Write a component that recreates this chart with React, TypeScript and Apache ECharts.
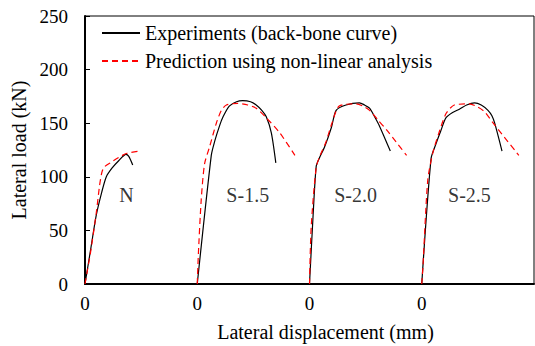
import React, { useEffect, useRef } from "react";
import * as echarts from "echarts";

const OFFSETS = [0, 20, 40, 60];
const SPECIMENS = ["N", "S-1.5", "S-2.0", "S-2.5"];
const LABEL_POS: [number, number][] = [[7.4, 83], [9.0, 83], [8.2, 83], [8.5, 83]];

const EXP_N: [number, number][] = [[0,0],[1,32],[2,64],[3,86],[3.8,100],[4.8,108],[6,115],[7.3,121],[7.8,119],[8.5,111]];
const PRED_N: [number, number][] = [[0,0],[1,30],[2,66],[2.6,92],[3,104],[3.4,109],[4.5,113],[6,118],[7.5,122],[9.8,124]];
const EXP_S15: [number, number][] = [[0,0],[2.5,120],[3.1,133],[4,148],[4.6,156],[5.7,166],[7,170],[8.1,171],[9.5,170],[10.5,167],[11.5,162],[12.3,156],[13.2,141],[14,113]];
const PRED_S15: [number, number][] = [[0,0],[0.2,28],[0.7,78],[1.3,112],[2.2,128],[3.4,150],[4.3,162],[5.2,167],[7.2,168.5],[9,167],[10.5,164],[12.3,155],[14.7,141],[17.4,120]];
const EXP_S20: [number, number][] = [[0,0],[0.6,60],[1.2,110],[1.8,118],[2.7,128],[3.9,146],[4.75,162],[6.5,167],[8.9,169],[9.8,167],[10.7,164],[11.6,156],[12.5,147],[14.4,124]];
const PRED_S20: [number, number][] = [[0,0],[0.3,53],[1.2,109],[1.9,120],[2.9,132],[4,150],[5.3,166],[8.3,168],[9.5,166],[10.7,162],[12.2,153],[13.7,144],[15.5,132],[17.3,120]];
const EXP_S25: [number, number][] = [[0,0],[1.66,117],[2.55,131],[3.4,143],[4.3,155],[5.5,160],[6.7,163],[8,167],[9.4,169],[10.6,167],[11.8,162],[12.5,157],[13,150],[14.3,124]];
const PRED_S25: [number, number][] = [[0,0],[0.2,15],[1.07,97],[1.96,122],[3,140],[4.33,159],[5.8,167],[8.5,168],[10,165],[11.2,160.7],[12.6,151],[14.4,139],[17.3,120]];

const EXPERIMENTS = [EXP_N, EXP_S15, EXP_S20, EXP_S25];
const PREDICTIONS = [PRED_N, PRED_S15, PRED_S20, PRED_S25];

const EXP_NAME = "Experiments (back-bone curve)";
const PRED_NAME = "Prediction using non-linear analysis";
const X_TICKS = [0, 20, 40, 60];

const FONT = "'Liberation Serif', 'Times New Roman', serif";

export default function App() {
  const ref = useRef<HTMLDivElement>(null);
  useEffect(() => {
    if (!ref.current) return;
    const chart = echarts.init(ref.current, undefined, { renderer: "svg" });
    const shift = (pts: [number, number][], off: number) => pts.map(([x, y]) => [x + off, y]);
    const series: any[] = [];
    EXPERIMENTS.forEach((pts, i) => {
      series.push({
        name: EXP_NAME,
        type: "line",
        data: shift(pts, OFFSETS[i]),
        symbol: "none",
        smooth: 0.25,
        lineStyle: { color: "#000", width: 1.2 },
        itemStyle: { color: "#000" },
        z: 3,
      });
    });
    PREDICTIONS.forEach((pts, i) => {
      series.push({
        name: PRED_NAME,
        type: "line",
        data: shift(pts, OFFSETS[i]),
        symbol: "none",
        smooth: 0.25,
        lineStyle: { color: "#ff0000", width: 1.2, type: [6, 4] },
        itemStyle: { color: "#ff0000" },
        z: 4,
      });
    });
    series.push({
      name: "labels",
      type: "scatter",
      symbolSize: 1,
      itemStyle: { color: "transparent" },
      silent: true,
      data: SPECIMENS.map((s, i) => ({ name: s, value: [LABEL_POS[i][0] + OFFSETS[i], LABEL_POS[i][1]] })),
      label: {
        show: true,
        position: "inside",
        formatter: (p: any) => p.name,
        fontFamily: FONT,
        fontSize: 20,
        color: "#000",
      },
    });
    chart.setOption({
      animation: false,
      backgroundColor: "#fff",
      textStyle: { fontFamily: FONT, color: "#000" },
      grid: {
        left: 85, right: 1, top: 16, bottom: 62,
        outerBoundsMode: "none",
        containLabel: false,
        show: true, borderColor: "#000", borderWidth: 1,
      },
      legend: {
        data: [EXP_NAME, PRED_NAME],
        orient: "vertical",
        left: 96,
        top: 18,
        itemWidth: 38,
        itemHeight: 14,
        itemGap: 8,
        itemStyle: { opacity: 0 },
        textStyle: { fontFamily: FONT, fontSize: 20, color: "#000" },
        selectedMode: false,
      },
      xAxis: {
        type: "value",
        min: 0,
        max: 80,
        interval: 20,
        name: "Lateral displacement (mm)",
        nameLocation: "middle",
        nameGap: 38,
        nameTextStyle: { fontFamily: FONT, fontSize: 20, color: "#000", padding: [0, 0, 0, 32] },
        axisLine: { show: true, lineStyle: { color: "#000", width: 2 } },
        axisTick: { show: false },
        splitLine: { show: false },
        axisLabel: {
          fontFamily: FONT,
          fontSize: 19,
          color: "#000",
          margin: 10,
          formatter: (v: number) => (X_TICKS.includes(v) ? "0" : ""),
        },
      },
      yAxis: {
        type: "value",
        min: 0,
        max: 250,
        interval: 50,
        name: "Lateral load (kN)",
        nameLocation: "middle",
        nameGap: 49,
        nameTextStyle: { fontFamily: FONT, fontSize: 20, color: "#000" },
        axisLine: { show: true, lineStyle: { color: "#000", width: 2 } },
        axisTick: { show: true, inside: true, length: 5, lineStyle: { color: "#000", width: 1 } },
        splitLine: { show: false },
        axisLabel: { fontFamily: FONT, fontSize: 19, color: "#000", margin: 17 },
      },
      series,
    });
    return () => chart.dispose();
  }, []);
  return <div ref={ref} style={{ width: 535, height: 346, position: "absolute", left: 0, top: 0 }} />;
}
